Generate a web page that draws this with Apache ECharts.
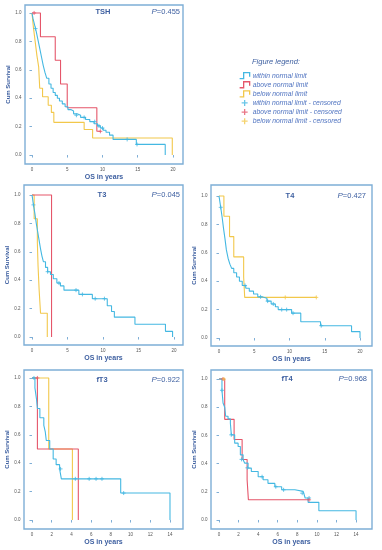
<!DOCTYPE html>
<html>
<head>
<meta charset="utf-8">
<script src="https://cdn.jsdelivr.net/npm/echarts@6/dist/echarts.min.js"></script>
<style>
html,body{margin:0;padding:0;background:#fff;}
#chart{width:382px;height:550px;}
</style>
</head>
<body>
<div id="chart"></div>
<script>
// ---------- DATA ----------
var panelTitles = ['TSH', 'T3', 'T4', 'fT3', 'fT4'];
var pValues = ['0.455', '0.045', '0.427', '0.922', '0.968'];
var yTicks = [0, 0.2, 0.4, 0.6, 0.8, 1.0];
var xTicksLong = [0, 5, 10, 15, 20];
var xTicksShort = [0, 2, 4, 6, 8, 10, 12, 14];
var groupNames = ['within normal limit', 'above normal limit', 'below normal limit'];
var censorNames = ['within normal limit - censored', 'above normal limit - censored', 'below normal limit - censored'];

// TSH
var tshWithinTime = [0, 0.15, 0.35, 0.6, 0.85, 1.1, 1.35, 1.6, 1.85, 2.1, 2.4, 2.7, 3.0, 3.3, 3.6, 3.9, 4.3, 4.7, 5.1, 5.5, 5.9, 6.4, 6.9, 7.6, 8.2, 8.8, 9.3, 9.7, 10.1, 10.5, 11.0, 11.5, 14.8, 18.9];
var tshWithinSurv = [1, 0.96, 0.92, 0.87, 0.81, 0.75, 0.69, 0.63, 0.58, 0.54, 0.50, 0.47, 0.44, 0.42, 0.40, 0.38, 0.36, 0.34, 0.32, 0.31, 0.29, 0.28, 0.265, 0.25, 0.235, 0.22, 0.205, 0.19, 0.175, 0.16, 0.14, 0.11, 0.075, 0];
var tshWithinCensT = [0.5, 6.3, 7.4, 8.9, 9.5, 10.0, 13.5, 14.9];
var tshWithinCensS = [0.89, 0.28, 0.265, 0.235, 0.205, 0.19, 0.11, 0.075];
var tshAboveTime = [0, 1.2, 3.3, 4.05, 5.0, 9.2, 9.7];
var tshAboveSurv = [1, 0.833, 0.667, 0.5, 0.333, 0.167, 0.167];
var tshAboveCensT = [0.3, 9.7];
var tshAboveCensS = [1, 0.167];
var tshBelowTime = [0, 0.2, 0.45, 0.7, 0.95, 1.1, 1.5, 2.3, 2.75, 3.1, 7.4, 8.6, 19.9];
var tshBelowSurv = [1, 0.9, 0.8, 0.7, 0.62, 0.47, 0.41, 0.35, 0.30, 0.23, 0.18, 0.12, 0];
var tshBelowCensT = [];
var tshBelowCensS = [];

// T3
var t3WithinTime = [0, 0.2, 0.4, 0.6, 0.8, 1.0, 1.2, 1.4, 1.6, 1.9, 2.2, 2.6, 3.0, 3.5, 4.0, 4.5, 6.6, 8.5, 10.6, 11.2, 11.6, 14.5, 18.8, 19.8];
var t3WithinSurv = [1, 0.93, 0.87, 0.80, 0.74, 0.68, 0.62, 0.57, 0.53, 0.49, 0.46, 0.44, 0.41, 0.38, 0.36, 0.33, 0.30, 0.27, 0.22, 0.18, 0.14, 0.09, 0.04, 0];
var t3WithinCensT = [0.2, 2.2, 3.8, 6.2, 7.1, 8.9, 10.2];
var t3WithinCensS = [0.93, 0.46, 0.38, 0.33, 0.30, 0.27, 0.27];
var t3AboveTime = [0, 2.75];
var t3AboveSurv = [1, 0];
var t3AboveCensT = [];
var t3AboveCensS = [];
var t3BelowTime = [0, 0.3, 0.75, 0.85, 1.0, 1.2, 2.15];
var t3BelowSurv = [1, 0.833, 0.667, 0.5, 0.333, 0.167, 0];
var t3BelowCensT = [];
var t3BelowCensS = [];

// T4
var t4WithinTime = [0, 0.25, 0.45, 0.65, 0.85, 1.05, 1.3, 1.55, 1.8, 2.1, 2.5, 2.9, 3.3, 3.8, 4.3, 4.9, 5.5, 6.1, 6.8, 7.4, 8.0, 8.4, 10.3, 11.6, 14.4, 18.8, 20.0];
var t4WithinSurv = [1, 0.92, 0.85, 0.77, 0.70, 0.62, 0.56, 0.52, 0.49, 0.46, 0.43, 0.40, 0.37, 0.35, 0.33, 0.31, 0.29, 0.28, 0.26, 0.24, 0.22, 0.20, 0.175, 0.115, 0.087, 0.045, 0];
var t4WithinCensT = [0.25, 3.7, 5.9, 6.9, 7.7, 8.9, 9.6, 10.5, 14.5];
var t4WithinCensS = [0.92, 0.37, 0.29, 0.26, 0.24, 0.20, 0.20, 0.175, 0.087];
var t4AboveTime = [];
var t4AboveSurv = [];
var t4AboveCensT = [];
var t4AboveCensS = [];
var t4BelowTime = [0, 0.7, 1.5, 2.1, 3.5, 3.65, 13.8];
var t4BelowSurv = [1, 0.857, 0.714, 0.571, 0.429, 0.286, 0.286];
var t4BelowCensT = [9.4, 13.8];
var t4BelowCensS = [0.286, 0.286];

// fT3
var ft3WithinTime = [0, 0.3, 0.45, 0.55, 0.8, 1.2, 1.35, 1.45, 1.8, 2.15, 2.45, 2.8, 2.98, 9.0, 14.0];
var ft3WithinSurv = [1, 0.93, 0.855, 0.785, 0.72, 0.667, 0.62, 0.56, 0.50, 0.43, 0.39, 0.36, 0.29, 0.19, 0];
var ft3WithinCensT = [0.2, 2.9, 4.4, 5.8, 6.5, 7.1, 9.3];
var ft3WithinCensS = [1, 0.36, 0.29, 0.29, 0.29, 0.29, 0.19];
var ft3AboveTime = [0, 0.55, 4.7];
var ft3AboveSurv = [1, 0.5, 0];
var ft3AboveCensT = [0.55];
var ft3AboveCensS = [1];
var ft3BelowTime = [0, 1.7, 4.1];
var ft3BelowSurv = [1, 0.5, 0];
var ft3BelowCensT = [];
var ft3BelowCensS = [];

// fT4
var ft4WithinTime = [0, 0.3, 0.41, 0.58, 0.68, 0.92, 1.16, 1.26, 1.6, 1.95, 2.18, 2.46, 2.63, 2.97, 3.3, 4.0, 4.5, 5.0, 5.7, 6.4, 7.75, 8.6, 8.8, 9.1, 10.2, 14.0];
var ft4WithinSurv = [1, 0.92, 0.83, 0.80, 0.736, 0.717, 0.686, 0.604, 0.545, 0.521, 0.462, 0.427, 0.403, 0.368, 0.344, 0.307, 0.285, 0.26, 0.236, 0.214, 0.203, 0.19, 0.156, 0.125, 0.066, 0];
var ft4WithinCensT = [0.3, 1.25, 2.3, 2.9, 4.4, 5.8, 6.6, 8.5, 9.2];
var ft4WithinCensS = [0.92, 0.604, 0.43, 0.37, 0.307, 0.236, 0.214, 0.19, 0.156];
var ft4AboveTime = [0, 0.58, 1.54, 2.36, 2.87, 3.0, 9.2];
var ft4AboveSurv = [1, 0.714, 0.571, 0.429, 0.286, 0.143, 0.143];
var ft4AboveCensT = [0.4, 9.2];
var ft4AboveCensS = [1, 0.143];
var ft4BelowTime = [0, 0.5];
var ft4BelowSurv = [1, 1];
var ft4BelowCensT = [0.5];
var ft4BelowCensS = [1];

// ---------- STYLE / LAYOUT ----------
var colors = ['#44b8e2', '#e5566a', '#f2c84b'];
var frameColor = '#7eaed6';
var textBlue = '#3d5fa0';
var panels = [
  {title: 0, left: 25, top: 5, width: 158, height: 159, xmin: -0.99, xmax: 21.42, ymin: -0.063, ymax: 1.056, xt: xTicksLong,
   curves: [[tshWithinTime, tshWithinSurv, tshWithinCensT, tshWithinCensS], [tshAboveTime, tshAboveSurv, tshAboveCensT, tshAboveCensS], [tshBelowTime, tshBelowSurv, tshBelowCensT, tshBelowCensS]],
   titleX: 103, titleY: 12, pX: 180},
  {title: 1, left: 24, top: 185, width: 159, height: 160, xmin: -1.13, xmax: 21.27, ymin: -0.056, ymax: 1.07, xt: xTicksLong,
   curves: [[t3WithinTime, t3WithinSurv, t3WithinCensT, t3WithinCensS], [t3AboveTime, t3AboveSurv, t3AboveCensT, t3AboveCensS], [t3BelowTime, t3BelowSurv, t3BelowCensT, t3BelowCensS]],
   titleX: 102, titleY: 195, pX: 180},
  {title: 2, left: 211, top: 185, width: 161, height: 161, xmin: -1.13, xmax: 21.7, ymin: -0.056, ymax: 1.077, xt: xTicksLong,
   curves: [[t4WithinTime, t4WithinSurv, t4WithinCensT, t4WithinCensS], [t4AboveTime, t4AboveSurv, t4AboveCensT, t4AboveCensS], [t4BelowTime, t4BelowSurv, t4BelowCensT, t4BelowCensS]],
   titleX: 290, titleY: 196, pX: 366},
  {title: 3, left: 24, top: 370, width: 159, height: 159, xmin: -0.81, xmax: 15.32, ymin: -0.063, ymax: 1.056, xt: xTicksShort,
   curves: [[ft3WithinTime, ft3WithinSurv, ft3WithinCensT, ft3WithinCensS], [ft3AboveTime, ft3AboveSurv, ft3AboveCensT, ft3AboveCensS], [ft3BelowTime, ft3BelowSurv, ft3BelowCensT, ft3BelowCensS]],
   titleX: 102, titleY: 380, pX: 180},
  {title: 4, left: 211, top: 370, width: 161, height: 159, xmin: -0.82, xmax: 15.63, ymin: -0.064, ymax: 1.064, xt: xTicksShort,
   curves: [[ft4WithinTime, ft4WithinSurv, ft4WithinCensT, ft4WithinCensS], [ft4AboveTime, ft4AboveSurv, ft4AboveCensT, ft4AboveCensS], [ft4BelowTime, ft4BelowSurv, ft4BelowCensT, ft4BelowCensS]],
   titleX: 287, titleY: 379, pX: 367}
];

function zip(a, b) { var r = []; for (var i = 0; i < a.length; i++) r.push([a[i], b[i]]); return r; }

var plusPath = 'path://M5,0L5,10M0,5L10,5';
var stepPath = 'path://M0,8L4,8L4,2L10,2L10,6';

var grids = [], xAxes = [], yAxes = [], series = [], texts = [];
panels.forEach(function (p, i) {
  grids.push({left: p.left, top: p.top, width: p.width, height: p.height, show: true, borderColor: frameColor, borderWidth: 1.4, backgroundColor: 'transparent', containLabel: false});
  xAxes.push({type: 'value', gridIndex: i, min: p.xmin, max: p.xmax,
    name: 'OS in years', nameLocation: 'middle', nameGap: 10,
    nameTextStyle: {color: textBlue, fontSize: 7, fontWeight: 'bold', fontFamily: 'Liberation Sans'},
    axisLine: {show: false}, splitLine: {show: false},
    axisTick: {show: true, customValues: p.xt, length: 2.5, lineStyle: {color: frameColor, width: 1}},
    axisLabel: {customValues: p.xt, fontSize: 4.5, color: '#555', margin: 3, fontFamily: 'Liberation Sans'}});
  yAxes.push({type: 'value', gridIndex: i, min: p.ymin, max: p.ymax,
    name: 'Cum Survival', nameLocation: 'middle', nameGap: 13,
    nameTextStyle: {color: textBlue, fontSize: 6, fontWeight: 'bold', fontFamily: 'Liberation Sans'},
    axisLine: {show: false}, splitLine: {show: false},
    axisTick: {show: true, customValues: yTicks, length: 2.5, lineStyle: {color: frameColor, width: 1}},
    axisLabel: {customValues: yTicks, fontSize: 4.5, color: '#555', margin: 3.5, fontFamily: 'Liberation Sans',
      formatter: function (v) { return v.toFixed(1); }}});
  texts.push({type: 'text', x: p.titleX, y: p.titleY, silent: true,
    style: {text: panelTitles[p.title], align: 'center', verticalAlign: 'middle', fill: textBlue,
      font: 'bold 7.5px "Liberation Sans"'}});
  texts.push({type: 'text', x: p.pX, y: p.titleY, silent: true,
    style: {text: '{i|P}=' + pValues[p.title], align: 'right', verticalAlign: 'middle', fill: textBlue,
      font: '7.5px "Liberation Sans"',
      rich: {i: {font: 'italic 8px "Liberation Sans"', fill: textBlue}}}});
  p.curves.forEach(function (c, k) {
    if (c[0].length) {
      series.push({type: 'line', name: groupNames[k], xAxisIndex: i, yAxisIndex: i, step: 'end', showSymbol: false, symbol: 'none',
        data: zip(c[0], c[1]), lineStyle: {color: colors[k], width: 1.1}, itemStyle: {color: colors[k]}, z: 3 - k, silent: true, animation: false});
    }
    if (c[2].length) {
      series.push({type: 'scatter', name: censorNames[k], xAxisIndex: i, yAxisIndex: i, symbol: plusPath, symbolSize: 4,
        data: zip(c[2], c[3]), itemStyle: {color: 'transparent', borderColor: colors[k], borderWidth: 1}, z: 4, silent: true, animation: false});
    }
  });
});

texts.push({type: 'text', x: 252, y: 62, silent: true,
  style: {text: 'Figure legend:', align: 'left', verticalAlign: 'middle', fill: textBlue,
    font: 'italic 7.5px "Liberation Sans"'}});

var legendData = [];
groupNames.forEach(function (n, k) {
  legendData.push({name: n, icon: stepPath, itemStyle: {color: 'transparent', borderColor: colors[k], borderWidth: 1.3}});
});
censorNames.forEach(function (n, k) {
  legendData.push({name: n, icon: plusPath, itemStyle: {color: 'transparent', borderColor: colors[k], borderWidth: 1.3}});
});

var chart = echarts.init(document.getElementById('chart'), null, {renderer: 'canvas'});
chart.setOption({
  animation: false,
  backgroundColor: '#ffffff',
  grid: grids,
  xAxis: xAxes,
  yAxis: yAxes,
  graphic: texts,
  legend: {data: legendData, orient: 'vertical', left: 239, top: 72, itemWidth: 10, itemHeight: 6, itemGap: 1.8,
    selectedMode: false, padding: 0,
    textStyle: {color: '#4f73c0', fontSize: 6.8, fontStyle: 'italic', fontFamily: 'Liberation Sans', padding: [0, 0, 0, -2]}},
  series: series
});
</script>
</body>
</html>
